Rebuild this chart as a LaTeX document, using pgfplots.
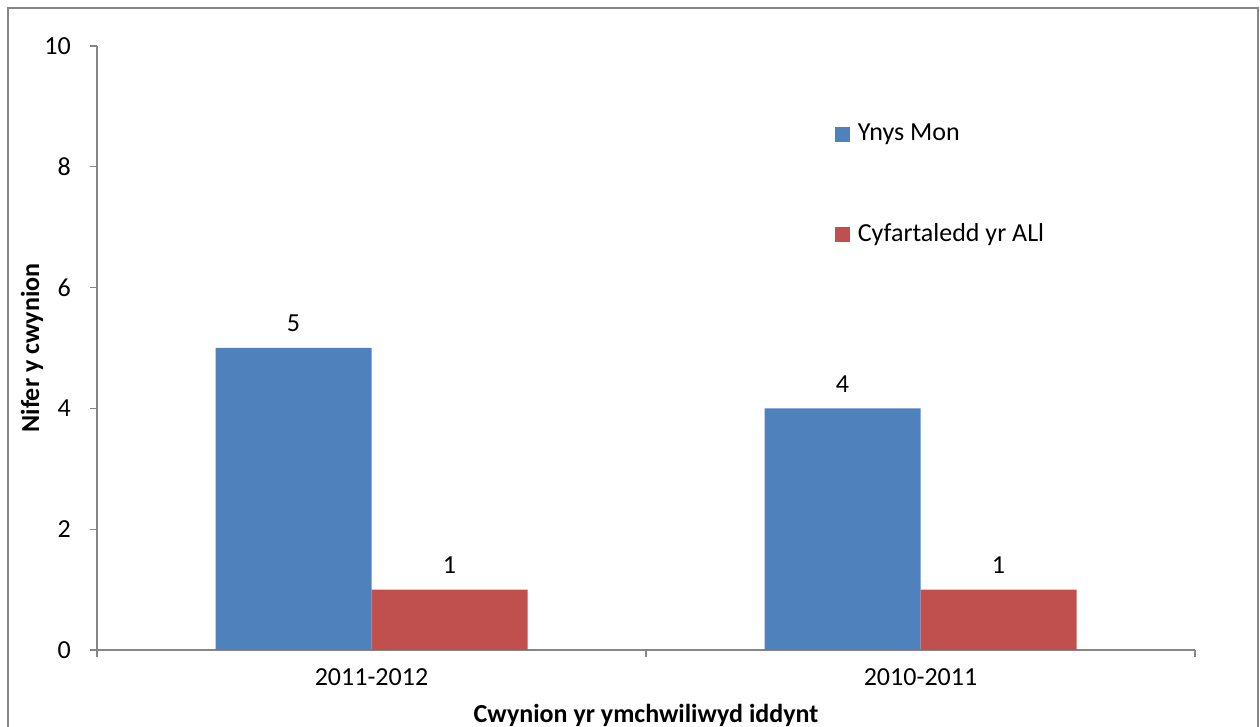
\documentclass[border=0pt]{standalone}
\usepackage{pgfplots}
\pgfplotsset{compat=1.18}
\usepackage{fontspec}
\setmainfont{Carlito}
\definecolor{sblue}{RGB}{79,129,189}
\definecolor{sred}{RGB}{192,80,77}
\definecolor{agray}{RGB}{134,134,134}
\begin{document}
\fontsize{19.5pt}{23pt}\selectfont
\begin{tikzpicture}
\useasboundingbox (0,0) rectangle (945pt,545.25pt);
\draw[agray, line width=1.5pt] (6pt,-10pt) rectangle (943.5pt,539.25pt);
\begin{axis}[
  at={(72.75pt,57.75pt)}, anchor=south west,
  scale only axis, width=823.5pt, height=453pt,
  xmin=0, xmax=2, ymin=0, ymax=10,
  axis lines=left, axis line style={agray, line width=1pt, -},
  ytick={0,2,4,6,8,10},
  xtick={0.5,1.5}, xticklabels={2011-2012,2010-2011},
  minor xtick={0,1,2},
  major x tick style={draw=none},
  tick style={agray, line width=1pt},
  tick align=outside, major tick length=5pt, minor tick length=5pt,
  /pgf/number format/assume math mode=true,
  font=\fontsize{19.5pt}{23pt}\selectfont,
  yticklabel style={anchor=east, xshift=-8pt},
  xticklabel style={anchor=center, yshift=-15pt},
  ybar=0pt, bar width=117pt,
  nodes near coords,
  every node near coord/.append style={anchor=south, inner sep=0pt, yshift=12pt, text=black},
  xlabel={\textbf{Cwynion yr ymchwiliwyd iddynt}},
  ylabel={\textbf{Nifer y cwynion}},
  every axis x label/.style={at={(rel axis cs:0.5,-0.1076)}, anchor=center},
  every axis y label/.style={at={(rel axis cs:-0.0592,0.5)}, anchor=center, rotate=90},
  legend style={draw=none, fill=none, at={(rel axis cs:0.672,0.875)}, anchor=north west,
    row sep=55pt, column sep=4pt, inner sep=0pt, outer sep=0pt,
    font=\fontsize{19.5pt}{23pt}\selectfont},
  legend cell align=left,
  legend image code/.code={\fill[#1] (0pt,-5.6pt) rectangle (11.25pt,5.6pt);},
]
\addplot[fill=sblue, draw=none] coordinates {(0.5,5) (1.5,4)};
\addplot[fill=sred, draw=none] coordinates {(0.5,1) (1.5,1)};
\legend{Ynys Mon, Cyfartaledd yr ALl}
\end{axis}
\end{tikzpicture}
\end{document}
